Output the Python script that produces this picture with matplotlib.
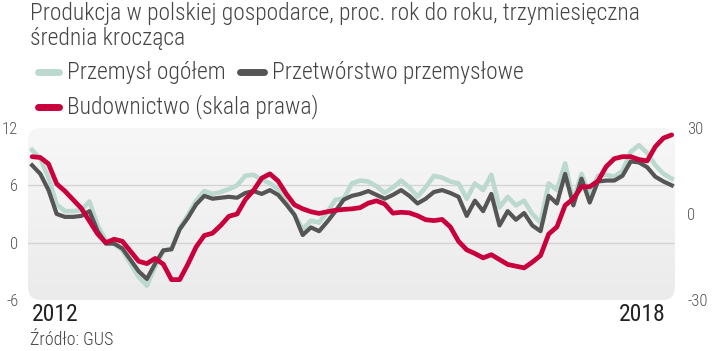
import numpy as np
import matplotlib
matplotlib.use("Agg")
import matplotlib.pyplot as plt
from matplotlib.patches import FancyBboxPatch
from matplotlib.lines import Line2D

plt.rcParams['font.family'] = ['Roboto Condensed', 'Barlow Condensed', 'Fira Sans Condensed', 'Roboto', 'DejaVu Sans']

# miesieczne dane, styczen 2012 - lipiec 2018 (srednia 3-mies., % r/r)
przemysl = [9.7, 8.8, 6.8, 4.0, 3.3, 3.3, 3.4, 4.3, 1.8, 0.2,
            -0.1, -0.8, -2.2, -3.6, -4.5, -2.5, -0.9, -0.6, 1.5, 2.9,
            4.4, 5.4, 5.1, 5.3, 5.6, 6.0, 7.0, 7.1, 6.6, 6.2,
            5.6, 4.2, 2.9, 1.4, 2.3, 2.1, 3.2, 4.5, 4.6, 6.2,
            6.5, 6.4, 5.9, 5.2, 5.8, 6.5, 5.8, 4.8, 5.8, 7.0,
            6.8, 6.4, 6.2, 4.6, 6.2, 5.5, 7.1, 3.7, 4.8, 3.9,
            4.4, 3.0, 2.1, 6.2, 5.5, 8.3, 4.4, 7.2, 4.9, 7.0,
            7.1, 6.9, 7.5, 9.5, 10.2, 9.4, 8.1, 7.2, 6.7]

przetworstwo = [8.1, 7.2, 5.5, 3.0, 2.7, 2.7, 2.8, 3.3, 1.2, -0.1,
                -0.1, -0.6, -1.8, -3.0, -3.8, -2.2, -0.8, -0.7, 1.4, 2.6,
                4.0, 4.9, 4.6, 4.7, 4.8, 4.7, 5.2, 5.4, 5.1, 5.5,
                5.0, 4.0, 2.9, 0.8, 1.6, 1.2, 2.2, 3.3, 4.5, 4.9,
                5.1, 5.4, 5.0, 4.6, 5.0, 5.5, 4.9, 4.1, 4.6, 5.3,
                5.5, 5.2, 4.8, 2.8, 4.4, 3.3, 5.1, 1.8, 3.3, 2.4,
                3.1, 1.8, 1.2, 4.9, 4.1, 7.2, 3.9, 6.7, 4.2, 6.4,
                6.5, 6.5, 7.0, 8.5, 8.4, 7.9, 6.9, 6.4, 6.0]

budownictwo = [20.0, 19.7, 17.5, 10.5, 8.0, 5.0, 2.0, -2.5, -7.0, -10.0,
               -8.8, -9.5, -13.0, -16.5, -17.3, -15.5, -17.5, -22.9, -22.9, -17.5,
               -11.5, -7.5, -6.7, -4.0, -0.8, 0.0, 5.0, 8.2, 12.5, 14.0,
               11.5, 7.0, 3.2, 1.8, 0.8, 0.2, 0.8, 1.3, 1.6, 1.8,
               2.2, 3.8, 4.6, 3.5, 0.3, 0.6, 0.4, -0.6, -2.0, -2.3,
               -1.9, -4.5, -9.5, -12.5, -13.8, -15.3, -14.2, -15.9, -17.6, -18.2,
               -18.8, -16.8, -14.5, -7.0, -4.5, 3.0, 5.3, 9.5, 9.5, 11.5,
               16.5, 19.3, 20.0, 20.0, 19.0, 18.5, 23.5, 26.5, 27.6]

lewe_ticki = [-6, 0, 6, 12]
prawe_ticki = [-30, 0, 30]

kol_przem = '#bcd9d0'
kol_przetw = '#555555'
kol_bud = '#c8003c'
kol_tekst = '#444444'

x = np.arange(len(przemysl))

fig = plt.figure(figsize=(7.2, 3.51), dpi=100)
pos = [28/720, 1-300/351, 647/720, 172/351]

# tlo z gradientem i zaokraglonymi rogami
bg = fig.add_axes(pos, zorder=0)
bg.set_axis_off()
grad = np.linspace(0, 1, 200).reshape(-1, 1)
img = bg.imshow(grad, extent=[0, 1, 0, 1], aspect='auto', origin='upper',
                cmap=matplotlib.colors.LinearSegmentedColormap.from_list('g', ['#f7f7f7', '#ebebec']))
ramka = FancyBboxPatch((0, 0), 1, 1, boxstyle='round,pad=0,rounding_size=0.02',
                       mutation_aspect=647/172, transform=bg.transAxes,
                       facecolor='none', edgecolor='none')
bg.add_patch(ramka)
img.set_clip_path(ramka)
bg.set_xlim(0, 1)
bg.set_ylim(0, 1)

ax = fig.add_axes(pos, zorder=1)
ax.patch.set_alpha(0)
for g in [0, 6]:
    ax.axhline(g, color='#d2d2d2', lw=0.9, zorder=1)
ax.plot(x, przemysl, color=kol_przem, lw=3.3, solid_joinstyle='round', zorder=2)
ax.plot(x, przetworstwo, color=kol_przetw, lw=3.0, solid_joinstyle='round', zorder=3)
ax.set_ylim(-6, 12)
ax.set_xlim(-0.5, 78.4)
ax.set_yticks(lewe_ticki)
ax.set_yticklabels([str(t) for t in lewe_ticki])
ax.set_xticks([])
ax.tick_params(axis='y', length=0, pad=7, labelsize=12, labelcolor='#555555')
for s in ax.spines.values():
    s.set_visible(False)
for t in ax.get_yticklabels():
    t.set_fontweight('light')

ax2 = ax.twinx()
ax2.plot(x, budownictwo, color=kol_bud, lw=3.4, solid_joinstyle='round', solid_capstyle='round', zorder=4)
ax2.set_ylim(-30, 30)
ax2.set_yticks(prawe_ticki)
ax2.set_yticklabels([str(t) for t in prawe_ticki])
ax2.tick_params(axis='y', length=0, pad=9, labelsize=12, labelcolor='#555555')
for s in ax2.spines.values():
    s.set_visible(False)
for t in ax2.get_yticklabels():
    t.set_fontweight('light')

# lata pod osia
ax.text(0, -6.3, '2012', ha='left', va='top', fontsize=17, color='#222222')
ax.text(77.3, -6.3, '2018', ha='right', va='top', fontsize=17, color='#222222')

# tytul
fig.text(30/720, 1-20/351, 'Produkcja w polskiej gospodarce, proc. rok do roku, trzymiesięczna',
         fontsize=16.9, color=kol_tekst, va='baseline', fontweight='light')
fig.text(30/720, 1-45/351, 'średnia krocząca', fontsize=16.9, color=kol_tekst, va='baseline',
         fontweight='light')

# legenda
leg = [(38, 59, 72, kol_przem, 'Przemysł ogółem'),
       (240, 264, 72, kol_przetw, 'Przetwórstwo przemysłowe'),
       (38, 59, 107, kol_bud, 'Budownictwo (skala prawa)')]
for x0, x1, yy, kol, etyk in leg:
    fig.add_artist(Line2D([x0/720, x1/720], [1-yy/351, 1-yy/351], color=kol, lw=5,
                          solid_capstyle='round', transform=fig.transFigure))
    fig.text((x1+8)/720, 1-yy/351, etyk, fontsize=16.9, color=kol_tekst, va='center',
             fontweight='light')

fig.text(30/720, 1-340/351, 'Źródło: GUS', fontsize=13, color=kol_tekst, va='center',
         fontweight='light')

fig.savefig('out.png', dpi=100)
